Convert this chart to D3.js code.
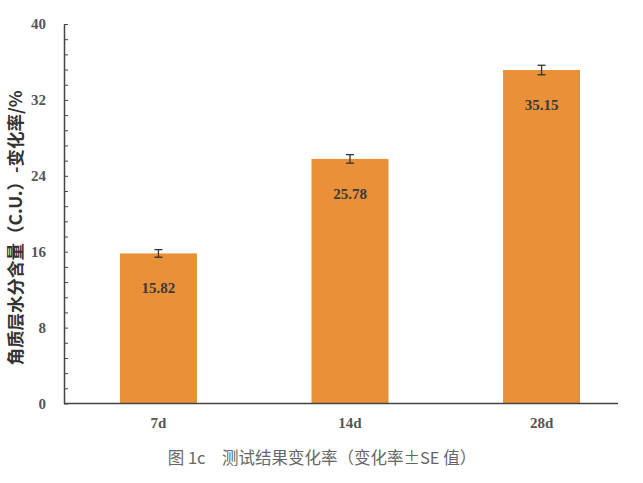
<!DOCTYPE html>
<html><head><meta charset="utf-8">
<script src="https://cdn.jsdelivr.net/npm/d3@7"></script>
<style>body{margin:0;background:#fff}</style>
</head><body>
<svg id="c" width="643" height="483"></svg>
<script>
const categories = ["7d", "14d", "28d"];
const values = [15.82, 25.78, 35.15];
const errors = [0.4, 0.45, 0.5];
const yTicks = [0, 8, 16, 24, 32, 40];
const yTitle = "角质层水分含量（C.U.）-变化率/%";
const caption = "图 1c\u2003测试结果变化率（变化率±SE 值）";

const svg = d3.select("#c");
const x = d3.scaleBand().domain(categories).range([64, 636]).paddingInner(0.598).paddingOuter(0.292);
const y = d3.scaleLinear().domain([0, 40]).range([403.5, 24]);
const axisColor = "#444";
const serif = "'Liberation Serif','Times New Roman',serif";

// bars
svg.selectAll("rect.bar").data(values).join("rect")
  .attr("class", "bar")
  .attr("x", (d, i) => x(categories[i]))
  .attr("width", x.bandwidth())
  .attr("y", d => y(d))
  .attr("height", d => y(0) - y(d))
  .attr("fill", "#E99038");

// error bars
const eb = svg.append("g").attr("stroke", "#333").attr("stroke-width", 1.3);
values.forEach((v, i) => {
  const cx = x(categories[i]) + x.bandwidth() / 2;
  eb.append("line").attr("x1", cx).attr("x2", cx).attr("y1", y(v + errors[i])).attr("y2", y(v - errors[i]));
  eb.append("line").attr("x1", cx - 4).attr("x2", cx + 4).attr("y1", y(v + errors[i])).attr("y2", y(v + errors[i]));
  eb.append("line").attr("x1", cx - 4).attr("x2", cx + 4).attr("y1", y(v - errors[i])).attr("y2", y(v - errors[i]));
});

// value labels
svg.selectAll("text.val").data(values).join("text")
  .attr("class", "val")
  .attr("x", (d, i) => x(categories[i]) + x.bandwidth() / 2)
  .attr("y", d => y(d) + 40)
  .attr("text-anchor", "middle")
  .attr("font-family", serif).attr("font-weight", "bold").attr("font-size", 15)
  .attr("fill", "#3a3a3a")
  .text(d => d.toFixed(2));

// y axis with minor ticks pointing inward
const minor = d3.range(0, 40.01, 1.6);
const yAxisMinor = d3.axisRight(y).tickValues(minor).tickSize(4).tickFormat("");
svg.append("g").attr("transform", "translate(64,0)").call(yAxisMinor)
  .call(g => { g.select(".domain").remove(); g.selectAll("line").attr("stroke", axisColor); });
const yAxis = d3.axisLeft(y).tickValues(yTicks).tickSize(0).tickPadding(18);
svg.append("g").attr("transform", "translate(64,0)").call(yAxis)
  .call(g => {
    g.select(".domain").attr("stroke", axisColor).attr("stroke-width", 1.5);
    g.selectAll("text").attr("font-family", serif).attr("font-weight", "bold").attr("font-size", 15).attr("fill", "#555");
  });

// x axis
const xAxis = d3.axisBottom(x).tickSize(0).tickPadding(14);
svg.append("g").attr("transform", "translate(0,403.5)").call(xAxis)
  .call(g => {
    g.select(".domain").remove();
    g.selectAll("text").attr("font-family", serif).attr("font-weight", "bold").attr("font-size", 15).attr("fill", "#555");
  });
svg.append("line").attr("x1", 64).attr("x2", 618).attr("y1", y(0)).attr("y2", y(0))
  .attr("stroke", axisColor).attr("stroke-width", 1.3);

// y title
svg.append("text")
  .attr("transform", "translate(22,228) rotate(-90)")
  .attr("text-anchor", "middle")
  .attr("font-family", "'Noto Sans CJK SC',sans-serif").attr("font-weight", "bold").attr("font-size", 17.5)
  .attr("fill", "#333")
  .text(yTitle);

// caption
svg.append("text")
  .attr("x", 322).attr("y", 464)
  .attr("text-anchor", "middle")
  .attr("font-family", "'Noto Sans CJK SC',sans-serif").attr("font-size", 16.5)
  .attr("fill", "#666")
  .text(caption);
</script>
</body></html>
